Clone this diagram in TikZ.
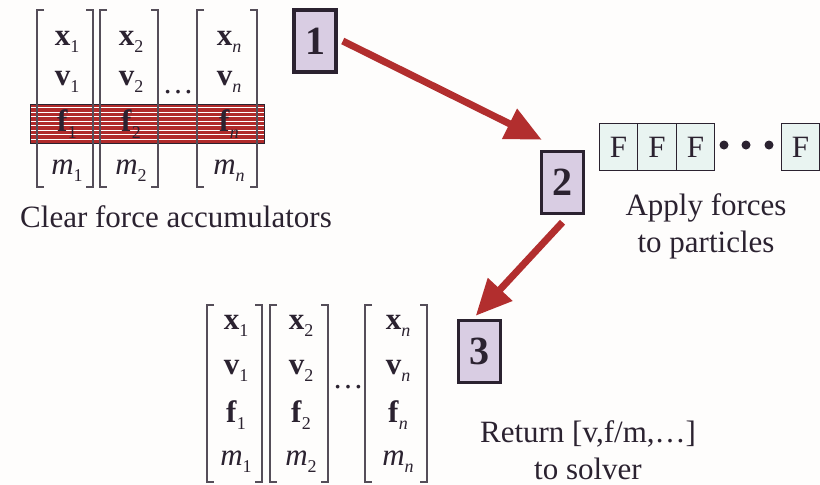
\documentclass[tikz,border=0pt]{standalone}
\usepackage{fontspec}
\setmainfont{Liberation Serif}
\usetikzlibrary{arrows.meta}
\definecolor{ink}{HTML}{2B2230}
\definecolor{boxfill}{HTML}{D9CDE3}
\definecolor{arrowred}{HTML}{B22E2E}
\definecolor{bandred}{HTML}{B02A2A}
\definecolor{ffill}{HTML}{E9F4F1}
\definecolor{bg}{HTML}{FEFDFC}
\newcommand\vent[2]{#1\raisebox{-0.5ex}{\fontsize{18}{18}\selectfont #2}}
\begin{document}
\begin{tikzpicture}[x=1pt,y=-1pt,
  brk/.style={draw=ink!80,line width=1.4pt},
  ent/.style={inner sep=0pt,text=ink,font=\fontsize{31}{31}\selectfont},
  stepbox/.style={draw=ink,line width=3.5pt,fill=boxfill,minimum width=42pt,minimum height=62pt,inner sep=0pt,text=ink,font=\fontsize{40}{40}\selectfont\bfseries},
  fbox/.style={draw=ink,line width=1.2pt,fill=ffill,minimum width=38.5pt,minimum height=47pt,inner sep=0pt,text=ink,font=\fontsize{31}{31}\selectfont},
  lbl/.style={text=ink,font=\fontsize{31}{37}\selectfont,align=center,inner sep=0pt},
  bigarrow/.style={draw=arrowred,line width=7pt,-{Triangle[length=36pt,width=32pt]}},
  dot/.style={circle,fill=ink,inner sep=0pt,minimum size=9pt}]
\fill[bg] (0,0) rectangle (820,485);
\useasboundingbox (0,0) rectangle (820,485);

% ---- top state vectors: red band first
\fill[bandred] (30,104) rectangle (264,143);
\foreach \yy in {107.5,112,116.5,121,125.5,130,134.5,139}
  \draw[white,line width=0.9pt] (30,\yy) -- (264,\yy);
\draw[ink,line width=1pt] (30,104) rectangle (264,143);

\foreach \L/\R in {37/93,100/158,197/257}{
  \draw[brk] (\L+7,10) -- (\L,10) -- (\L,187) -- (\L+7,187);
  \draw[brk] (\R-7,10) -- (\R,10) -- (\R,187) -- (\R-7,187);
}
\foreach \c/\xx/\s in {1/67/1,2/131/2,n/229/\textit{n}}{
  \node[ent] (tx\c) at (\xx,42) {\vent{\textbf{x}}{\s}};
  \node[ent] (tv\c) at (\xx,82) {\vent{\textbf{v}}{\s}};
  \node[ent] (tf\c) at (\xx,124) {\vent{\textbf{f}}{\s}};
  \node[ent] (tm\c) at (\xx,171) {\vent{\textit{m}}{\s}};
}
\node[ent] (tdots) at (178,92) {\dots};
\node[lbl] (clear) at (176,217) {Clear force accumulators};

% ---- bottom state vectors
\foreach \L/\R in {207/262,270/328,365/427}{
  \draw[brk] (\L+7,305) -- (\L,305) -- (\L,482) -- (\L+7,482);
  \draw[brk] (\R-7,305) -- (\R,305) -- (\R,482) -- (\R-7,482);
}
\foreach \c/\xx/\s in {1/236/1,2/301/2,n/398/\textit{n}}{
  \node[ent] (bx\c) at (\xx,326) {\vent{\textbf{x}}{\s}};
  \node[ent] (bv\c) at (\xx,371) {\vent{\textbf{v}}{\s}};
  \node[ent] (bf\c) at (\xx,415) {\vent{\textbf{f}}{\s}};
  \node[ent] (bm\c) at (\xx,462) {\vent{\textit{m}}{\s}};
}
\node[ent] (bdots) at (348,387) {\dots};

% ---- step boxes
\node[stepbox] (b1) at (315,41) {1};
\node[stepbox] (b2) at (562.5,182.5) {2};
\node[stepbox] (b3) at (479.5,351.5) {3};

% ---- force objects
\node[fbox] (f1) at (618.5,147) {F};
\node[fbox] (f2) at (657,147) {F};
\node[fbox] (f3) at (695.5,147) {F};
\node[dot] (d1) at (724,145) {};
\node[dot] (d2) at (746,145) {};
\node[dot] (d3) at (769,145) {};
\node[fbox] (f4) at (800.5,147) {F};
\node[lbl] (apply) at (706,226) {Apply forces\\to particles};
\node[lbl] (ret) at (588,450) {Return [v,f/m,\dots]\\to solver};

% ---- arrows
\draw[bigarrow] ([xshift=5pt]b1.east) -- ([xshift=2pt,yshift=10pt]b2.north west);
\draw[bigarrow] ([yshift=-7pt]b2.south) -- ([xshift=19pt,yshift=3pt]b3.north west);
\end{tikzpicture}
\end{document}
